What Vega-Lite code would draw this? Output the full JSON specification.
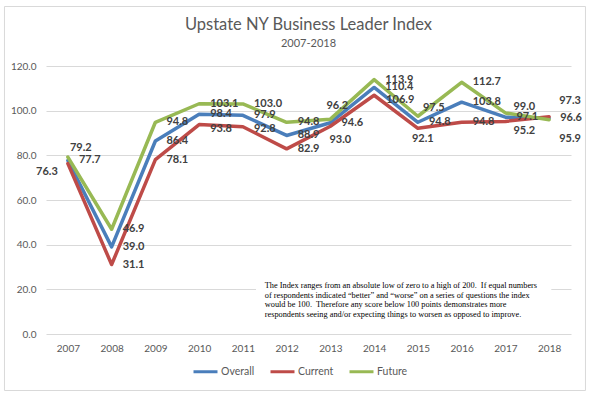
{
  "$schema": "https://vega.github.io/schema/vega-lite/v6.json",
  "width": 525,
  "height": 268,
  "autosize": {"type": "none"},
  "padding": {"left": 46, "top": 66, "right": 20, "bottom": 64},
  "background": "white",
  "config": {"view": {"stroke": null}},
  "title": {
    "text": "Upstate NY Business Leader Index",
    "subtitle": "2007-2018",
    "font": "Lato",
    "fontSize": 16.5,
    "fontWeight": "normal",
    "color": "#595959",
    "subtitleFont": "Lato",
    "subtitleFontSize": 11,
    "subtitleColor": "#595959",
    "subtitlePadding": 5,
    "anchor": "middle",
    "offset": -43
  },
  "data": {
    "values": [
      {"year": 2007, "series": "Overall", "value": 77.7},
      {"year": 2008, "series": "Overall", "value": 39.0},
      {"year": 2009, "series": "Overall", "value": 86.4},
      {"year": 2010, "series": "Overall", "value": 98.4},
      {"year": 2011, "series": "Overall", "value": 97.9},
      {"year": 2012, "series": "Overall", "value": 88.9},
      {"year": 2013, "series": "Overall", "value": 94.6},
      {"year": 2014, "series": "Overall", "value": 110.4},
      {"year": 2015, "series": "Overall", "value": 94.8},
      {"year": 2016, "series": "Overall", "value": 103.8},
      {"year": 2017, "series": "Overall", "value": 97.1},
      {"year": 2018, "series": "Overall", "value": 96.6},
      {"year": 2007, "series": "Current", "value": 76.3},
      {"year": 2008, "series": "Current", "value": 31.1},
      {"year": 2009, "series": "Current", "value": 78.1},
      {"year": 2010, "series": "Current", "value": 93.8},
      {"year": 2011, "series": "Current", "value": 92.8},
      {"year": 2012, "series": "Current", "value": 82.9},
      {"year": 2013, "series": "Current", "value": 93.0},
      {"year": 2014, "series": "Current", "value": 106.9},
      {"year": 2015, "series": "Current", "value": 92.1},
      {"year": 2016, "series": "Current", "value": 94.8},
      {"year": 2017, "series": "Current", "value": 95.2},
      {"year": 2018, "series": "Current", "value": 97.3},
      {"year": 2007, "series": "Future", "value": 79.2},
      {"year": 2008, "series": "Future", "value": 46.9},
      {"year": 2009, "series": "Future", "value": 94.8},
      {"year": 2010, "series": "Future", "value": 103.1},
      {"year": 2011, "series": "Future", "value": 103.0},
      {"year": 2012, "series": "Future", "value": 94.8},
      {"year": 2013, "series": "Future", "value": 96.2},
      {"year": 2014, "series": "Future", "value": 113.9},
      {"year": 2015, "series": "Future", "value": 97.5},
      {"year": 2016, "series": "Future", "value": 112.7},
      {"year": 2017, "series": "Future", "value": 99.0},
      {"year": 2018, "series": "Future", "value": 95.9}
    ]
  },
  "layer": [
    {
      "data": {"values": [{}]},
      "mark": {"type": "rect", "fill": null, "fillOpacity": 0, "stroke": "#d9d9d9", "strokeWidth": 1},
      "encoding": {
        "x": {"datum": 2005.551, "type": "quantitative", "scale": {"domain": [2006.5, 2018.5], "nice": false, "zero": false}},
        "x2": {"datum": 2018.831},
        "y": {"datum": 146.64, "type": "quantitative", "scale": {"domain": [0, 120], "nice": false}},
        "y2": {"datum": -25.3}
      }
    },
    {
      "data": {"values": [{}]},
      "mark": {"type": "rect", "fill": "white", "stroke": null},
      "encoding": {
        "x": {"datum": 2011.3, "type": "quantitative"},
        "x2": {"datum": 2018.05},
        "y": {"datum": 26.5, "type": "quantitative"},
        "y2": {"datum": 7.5}
      }
    },
    {
      "data": {"values": [{"note": [
        "The Index ranges from an absolute low of zero to a high of 200.\u00a0 If equal numbers",
        "of respondents indicated “better” and “worse” on a series of questions the index",
        "would be 100.\u00a0 Therefore any score below 100 points demonstrates more",
        "respondents seeing and/or expecting things to worsen as opposed to improve."
      ]}]},
      "mark": {"type": "text", "align": "left", "baseline": "top", "font": "Liberation Serif", "fontSize": 8.3, "lineHeight": 9.5, "color": "#000000"},
      "encoding": {
        "x": {"datum": 2011.5, "type": "quantitative"},
        "y": {"datum": 23.6, "type": "quantitative"},
        "text": {"field": "note"}
      }
    },
    {
      "mark": {"type": "line", "strokeWidth": 3.5, "strokeJoin": "round", "strokeCap": "round"},
      "encoding": {
        "x": {
          "field": "year", "type": "quantitative",
          "scale": {"domain": [2006.5, 2018.5], "nice": false, "zero": false},
          "axis": {
            "title": null, "values": [2007, 2008, 2009, 2010, 2011, 2012, 2013, 2014, 2015, 2016, 2017, 2018],
            "format": "d", "grid": false, "domain": false, "ticks": false, "labelPadding": 9,
            "labelFont": "Lato", "labelFontSize": 10, "labelColor": "#595959"
          }
        },
        "y": {
          "field": "value", "type": "quantitative",
          "scale": {"domain": [0, 120], "nice": false},
          "axis": {
            "title": null, "values": [0, 20, 40, 60, 80, 100, 120], "format": ".1f",
            "grid": true, "gridColor": "#d9d9d9", "gridWidth": 1, "domain": false, "ticks": false,
            "labelPadding": 10, "labelFont": "Lato", "labelFontSize": 10, "labelColor": "#595959"
          }
        },
        "color": {
          "field": "series", "type": "nominal",
          "scale": {"domain": ["Overall", "Current", "Future"], "range": ["#4a7ebb", "#be4b48", "#98b954"]},
          "legend": {
            "title": null, "orient": "none", "direction": "horizontal",
            "legendX": 146, "legendY": 292,
            "symbolType": "stroke", "symbolStrokeWidth": 3, "symbolSize": 576,
            "labelFont": "Lato", "labelFontSize": 10.5, "labelColor": "#595959",
            "labelOffset": 2, "columnPadding": 9
          }
        }
      }
    },
    {
      "transform": [{"filter": "indexof(['Future2007','Current2007','Current2010','Current2011','Future2013','Current2013','Current2014','Future2015','Current2015','Future2017','Current2017','Current2018','Future2018'], datum.series + datum.year) < 0"}],
      "mark": {"type": "text", "align": "left", "baseline": "middle", "dx": 11, "dy": 0, "font": "Lato", "fontSize": 11, "fontWeight": "bold", "color": "#404040"},
      "encoding": {"x": {"field": "year", "type": "quantitative"}, "y": {"field": "value", "type": "quantitative"}, "text": {"field": "value", "type": "quantitative", "format": ".1f"}}
    },
    {
      "transform": [{"filter": "datum.series + datum.year == 'Future2007'"}],
      "mark": {"type": "text", "align": "left", "baseline": "middle", "dx": 2, "dy": -9, "font": "Lato", "fontSize": 11, "fontWeight": "bold", "color": "#404040"},
      "encoding": {"x": {"field": "year", "type": "quantitative"}, "y": {"field": "value", "type": "quantitative"}, "text": {"field": "value", "type": "quantitative", "format": ".1f"}}
    },
    {
      "transform": [{"filter": "datum.series + datum.year == 'Current2007'"}],
      "mark": {"type": "text", "align": "right", "baseline": "middle", "dx": -10, "dy": 8, "font": "Lato", "fontSize": 11, "fontWeight": "bold", "color": "#404040"},
      "encoding": {"x": {"field": "year", "type": "quantitative"}, "y": {"field": "value", "type": "quantitative"}, "text": {"field": "value", "type": "quantitative", "format": ".1f"}}
    },
    {
      "transform": [{"filter": "datum.series + datum.year == 'Current2010'"}],
      "mark": {"type": "text", "align": "left", "baseline": "middle", "dx": 11, "dy": 4, "font": "Lato", "fontSize": 11, "fontWeight": "bold", "color": "#404040"},
      "encoding": {"x": {"field": "year", "type": "quantitative"}, "y": {"field": "value", "type": "quantitative"}, "text": {"field": "value", "type": "quantitative", "format": ".1f"}}
    },
    {
      "transform": [{"filter": "datum.series + datum.year == 'Current2011'"}],
      "mark": {"type": "text", "align": "left", "baseline": "middle", "dx": 11, "dy": 2, "font": "Lato", "fontSize": 11, "fontWeight": "bold", "color": "#404040"},
      "encoding": {"x": {"field": "year", "type": "quantitative"}, "y": {"field": "value", "type": "quantitative"}, "text": {"field": "value", "type": "quantitative", "format": ".1f"}}
    },
    {
      "transform": [{"filter": "datum.series + datum.year == 'Future2013'"}],
      "mark": {"type": "text", "align": "left", "baseline": "middle", "dx": -4, "dy": -13, "font": "Lato", "fontSize": 11, "fontWeight": "bold", "color": "#404040"},
      "encoding": {"x": {"field": "year", "type": "quantitative"}, "y": {"field": "value", "type": "quantitative"}, "text": {"field": "value", "type": "quantitative", "format": ".1f"}}
    },
    {
      "transform": [{"filter": "datum.series + datum.year == 'Current2013'"}],
      "mark": {"type": "text", "align": "left", "baseline": "middle", "dx": -1, "dy": 14, "font": "Lato", "fontSize": 11, "fontWeight": "bold", "color": "#404040"},
      "encoding": {"x": {"field": "year", "type": "quantitative"}, "y": {"field": "value", "type": "quantitative"}, "text": {"field": "value", "type": "quantitative", "format": ".1f"}}
    },
    {
      "transform": [{"filter": "datum.series + datum.year == 'Current2014'"}],
      "mark": {"type": "text", "align": "left", "baseline": "middle", "dx": 12, "dy": 5, "font": "Lato", "fontSize": 11, "fontWeight": "bold", "color": "#404040"},
      "encoding": {"x": {"field": "year", "type": "quantitative"}, "y": {"field": "value", "type": "quantitative"}, "text": {"field": "value", "type": "quantitative", "format": ".1f"}}
    },
    {
      "transform": [{"filter": "datum.series + datum.year == 'Future2015'"}],
      "mark": {"type": "text", "align": "left", "baseline": "middle", "dx": 5, "dy": -8, "font": "Lato", "fontSize": 11, "fontWeight": "bold", "color": "#404040"},
      "encoding": {"x": {"field": "year", "type": "quantitative"}, "y": {"field": "value", "type": "quantitative"}, "text": {"field": "value", "type": "quantitative", "format": ".1f"}}
    },
    {
      "transform": [{"filter": "datum.series + datum.year == 'Current2015'"}],
      "mark": {"type": "text", "align": "left", "baseline": "middle", "dx": -6, "dy": 11, "font": "Lato", "fontSize": 11, "fontWeight": "bold", "color": "#404040"},
      "encoding": {"x": {"field": "year", "type": "quantitative"}, "y": {"field": "value", "type": "quantitative"}, "text": {"field": "value", "type": "quantitative", "format": ".1f"}}
    },
    {
      "transform": [{"filter": "datum.series + datum.year == 'Future2017'"}],
      "mark": {"type": "text", "align": "left", "baseline": "middle", "dx": 8, "dy": -6, "font": "Lato", "fontSize": 11, "fontWeight": "bold", "color": "#404040"},
      "encoding": {"x": {"field": "year", "type": "quantitative"}, "y": {"field": "value", "type": "quantitative"}, "text": {"field": "value", "type": "quantitative", "format": ".1f"}}
    },
    {
      "transform": [{"filter": "datum.series + datum.year == 'Current2017'"}],
      "mark": {"type": "text", "align": "left", "baseline": "middle", "dx": 8, "dy": 10, "font": "Lato", "fontSize": 11, "fontWeight": "bold", "color": "#404040"},
      "encoding": {"x": {"field": "year", "type": "quantitative"}, "y": {"field": "value", "type": "quantitative"}, "text": {"field": "value", "type": "quantitative", "format": ".1f"}}
    },
    {
      "transform": [{"filter": "datum.series + datum.year == 'Current2018'"}],
      "mark": {"type": "text", "align": "left", "baseline": "middle", "dx": 10, "dy": -16, "font": "Lato", "fontSize": 11, "fontWeight": "bold", "color": "#404040"},
      "encoding": {"x": {"field": "year", "type": "quantitative"}, "y": {"field": "value", "type": "quantitative"}, "text": {"field": "value", "type": "quantitative", "format": ".1f"}}
    },
    {
      "transform": [{"filter": "datum.series + datum.year == 'Future2018'"}],
      "mark": {"type": "text", "align": "left", "baseline": "middle", "dx": 10, "dy": 19, "font": "Lato", "fontSize": 11, "fontWeight": "bold", "color": "#404040"},
      "encoding": {"x": {"field": "year", "type": "quantitative"}, "y": {"field": "value", "type": "quantitative"}, "text": {"field": "value", "type": "quantitative", "format": ".1f"}}
    }
  ]
}
